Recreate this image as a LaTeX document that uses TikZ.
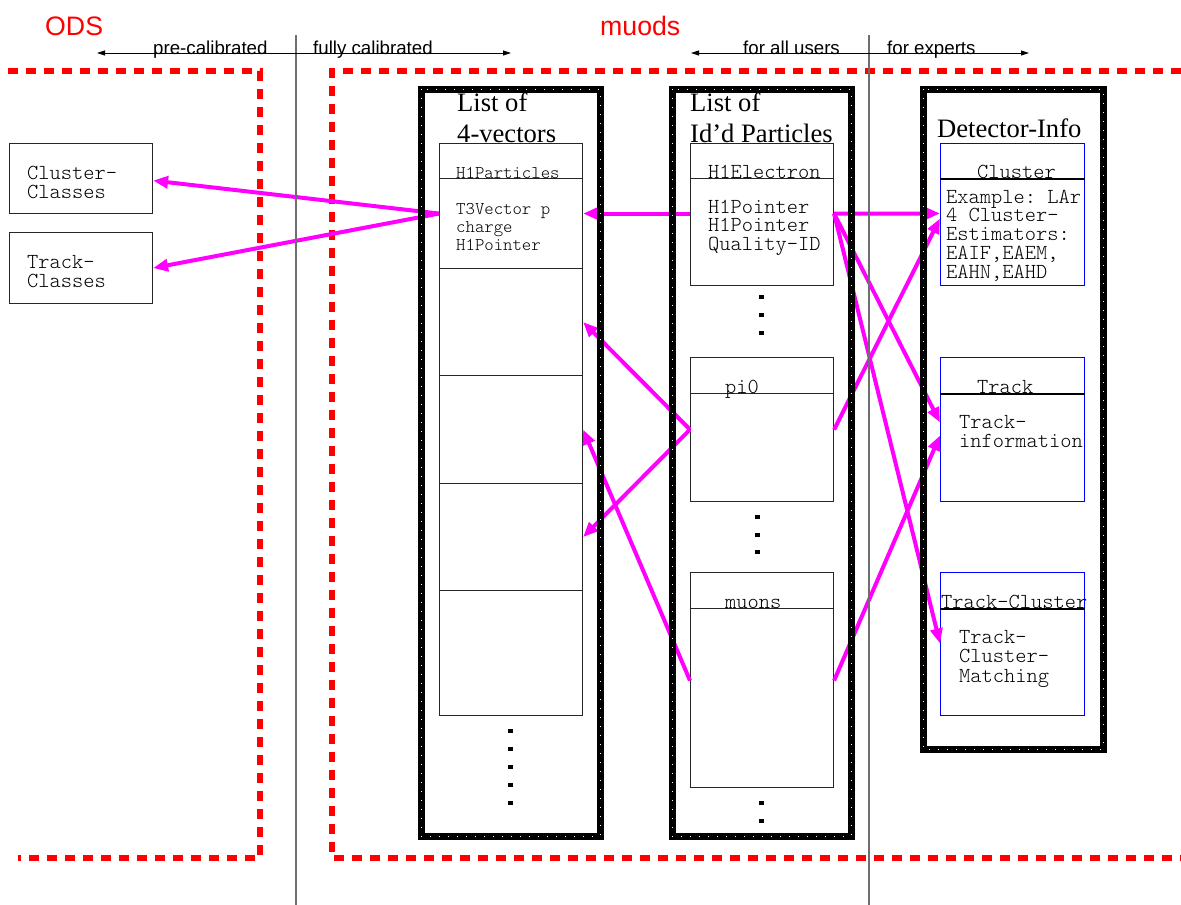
\documentclass[tikz,border=0pt]{standalone}
\usepackage{fontspec}
\setmainfont{Liberation Serif}
\setsansfont{Liberation Sans}
\setmonofont{Latin Modern Mono Light}
\usetikzlibrary{arrows.meta}
\definecolor{mag}{RGB}{255,0,255}
\definecolor{vgray}{RGB}{110,110,110}
\begin{document}
\begin{tikzpicture}[x=1pt,y=-1pt,
 box/.style={draw=black!85, line width=1.1pt, inner sep=0pt, anchor=north west, minimum width=143pt},
 bbox/.style={draw=blue, line width=1pt, inner sep=0pt, anchor=north west, minimum width=144pt},
 mono/.style={font=\ttfamily\fontsize{21.4}{18.75}\selectfont, inner sep=0pt, anchor=base west, align=left},
 monos/.style={font=\ttfamily\fontsize{17.9}{18}\selectfont, inner sep=0pt, anchor=base west, align=left},
 ttl/.style={font=\rmfamily\fontsize{26.6}{31}\selectfont, inner sep=0pt, anchor=base west, align=left},
 lab/.style={font=\sffamily\fontsize{18.7}{20}\selectfont, inner sep=0pt, anchor=base west},
 big/.style={font=\sffamily\fontsize{26.7}{30}\selectfont, text=red, inner sep=0pt, anchor=base west},
 marrow/.style={draw=mag, line width=4pt, -{Triangle[length=15pt,width=12pt]}},
 thinarrow/.style={draw=black, line width=0.8pt, {Triangle[length=8pt,width=5pt]}-{Triangle[length=8pt,width=5pt]}},
 frame/.style={line width=7pt},
 framedots/.style={white, line width=1pt, dash pattern=on 1pt off 8pt},
 reddash/.style={red, line width=6pt, dash pattern=on 10pt off 8pt},
 divider/.style={black, line width=1.1pt},
 vline/.style={vgray, line width=1.3pt}
]
\useasboundingbox (0,0) rectangle (1181,905);

% red dashed regions
\draw[reddash] (8,71) -- (260,71) -- (260,858) -- (18,858);
\draw[reddash] (1181,71) -- (332,71) -- (332,858) -- (1181,858);

% left class boxes
\node[box, minimum height=70pt] (ccls) at (9,143) {};
\node[box, minimum height=71pt] (tcls) at (9,232) {};
\node[mono] (cclst) at (27,198) {Cluster-\\Classes};
\node[mono] (tclst) at (27,287) {Track-\\Classes};

% list of 4-vectors
\node[box, minimum height=35pt] (v0) at (439,143) {};
\node[box, minimum height=90pt] (v1) at (439,178) {};
\node[box, minimum height=107pt] (v2) at (439,268) {};
\node[box, minimum height=108pt] (v3) at (439,375) {};
\node[box, minimum height=107pt] (v4) at (439,483) {};
\node[box, minimum height=125pt] (v5) at (439,590) {};

% list of id'd particles
\node[box, minimum height=35pt] (e0) at (690,143) {};
\node[box, minimum height=107pt] (e1) at (690,178) {};
\node[box, minimum height=36pt] (p0) at (690,357) {};
\node[box, minimum height=108pt] (p1) at (690,393) {};
\node[box, minimum height=36pt] (m0) at (690,572) {};
\node[box, minimum height=179pt] (m1) at (690,608) {};

% detector info
\node[bbox, minimum height=35pt] (c0) at (940,143) {};
\node[bbox, minimum height=107pt] (c1) at (940,178) {};
\node[bbox, minimum height=36pt] (t0) at (940,357) {};
\node[bbox, minimum height=108pt] (t1) at (940,393) {};
\node[bbox, minimum height=36pt] (x0) at (940,572) {};
\node[bbox, minimum height=107pt] (x1) at (940,608) {};

% texts
\node[ttl] (t4v) at (457,142) {List of\\4-vectors};
\node[ttl] (tid) at (690,142) {List of\\Id'd Particles};
\node[ttl] (tdi) at (937,137) {Detector-Info};
\node[monos] (h1p) at (456,178) {H1Particles};
\node[monos] (t3v) at (456,250) {T3Vector p\\charge\\H1Pointer};
\node[mono] (h1e) at (708,178) {H1Electron};
\node[mono] (h1ptr) at (708,250.5) {H1Pointer\\H1Pointer\\Quality-ID};
\node[mono] (pi0) at (725,393) {pi0};
\node[mono] (muons) at (725,608) {muons};
\node[mono] (clt) at (977,178) {Cluster};
\node[mono] (ext) at (946,278) {Example: LAr\\4 Cluster-\\Estimators:\\EAIF,EAEM,\\EAHN,EAHD};
\node[mono] (trt) at (977,393) {Track};
\node[mono] (tri) at (959,447) {Track-\\information};
\node[mono, font=\ttfamily\fontsize{21.4}{19.5}\selectfont] (tcm) at (959,682) {Track-\\Cluster-\\Matching};
\node[mono] (tct) at (941,608) {Track-Cluster};

\draw[divider] (c0.south west) -- (c0.south east);
\draw[divider] (t0.south west) -- (t0.south east);
\draw[divider] (x0.south west) -- (x0.south east);

% ellipsis dots
\foreach \y in {731,749,767,785,803} \fill (507.5,\y-2) rectangle (512.5,\y+2);
\foreach \y in {297,315,333,803,821} \fill (758.5,\y-2) rectangle (763.5,\y+2);
\foreach \y in {517,535,552} \fill (754.5,\y-2) rectangle (759.5,\y+2);

% magenta connectors
\draw[marrow] ([yshift=10pt]v1.west) -- ([yshift=-2pt]ccls.east);
\draw[marrow] ([yshift=10pt]v1.west) -- (tcls.east);
\draw[marrow] ([yshift=18.5pt]e1.west) -- ([yshift=10pt]v1.east);
\draw[marrow] ([yshift=18.5pt]e1.east) -- ([yshift=18.5pt]c1.west);
\draw[marrow] ([yshift=18.5pt]e1.east) -- ([yshift=25pt]t1.west);
\draw[marrow] ([yshift=18.5pt]e1.east) -- ([yshift=18.5pt]x1.west);
\draw[marrow] ([yshift=18pt]p1.west) -- (v2.east);
\draw[marrow] ([yshift=18pt]p1.west) -- (v4.east);
\draw[marrow] ([yshift=18pt]p1.east) -- ([yshift=13.5pt]c1.west);
\draw[marrow] ([yshift=17.5pt]m1.west) -- (v3.east);
\draw[marrow] ([yshift=17.5pt]m1.east) -- ([yshift=12pt]t1.west);

% thick frames
\foreach \a/\b/\c/\d in {421/89/600/836, 672/89/851/836, 923/89/1103/749} {
  \draw[frame] (\a,\b) rectangle (\c,\d);
  \draw[framedots] (\a,\b) rectangle (\c,\d);
}

% separators
\draw[vline] (296,35) -- (296,905);
\draw[vline] (869,35) -- (869,905);

% headings
\node[big] (ods) at (45,35) {ODS};
\node[big] (muods) at (600,35) {muods};
\coordinate (pcl) at (97,53);
\coordinate (pcr) at (511,53);
\coordinate (usl) at (691,53);
\coordinate (usr) at (1029,53);
\draw[thinarrow] (pcl) -- (pcr);
\draw[thinarrow] (usl) -- (usr);
\node[lab] (prec) at (153,54) {pre-calibrated};
\node[lab] (fullc) at (313,54) {fully calibrated};
\node[lab] (allu) at (743,54) {for all users};
\node[lab] (expu) at (887,54) {for experts};
\end{tikzpicture}
\end{document}
